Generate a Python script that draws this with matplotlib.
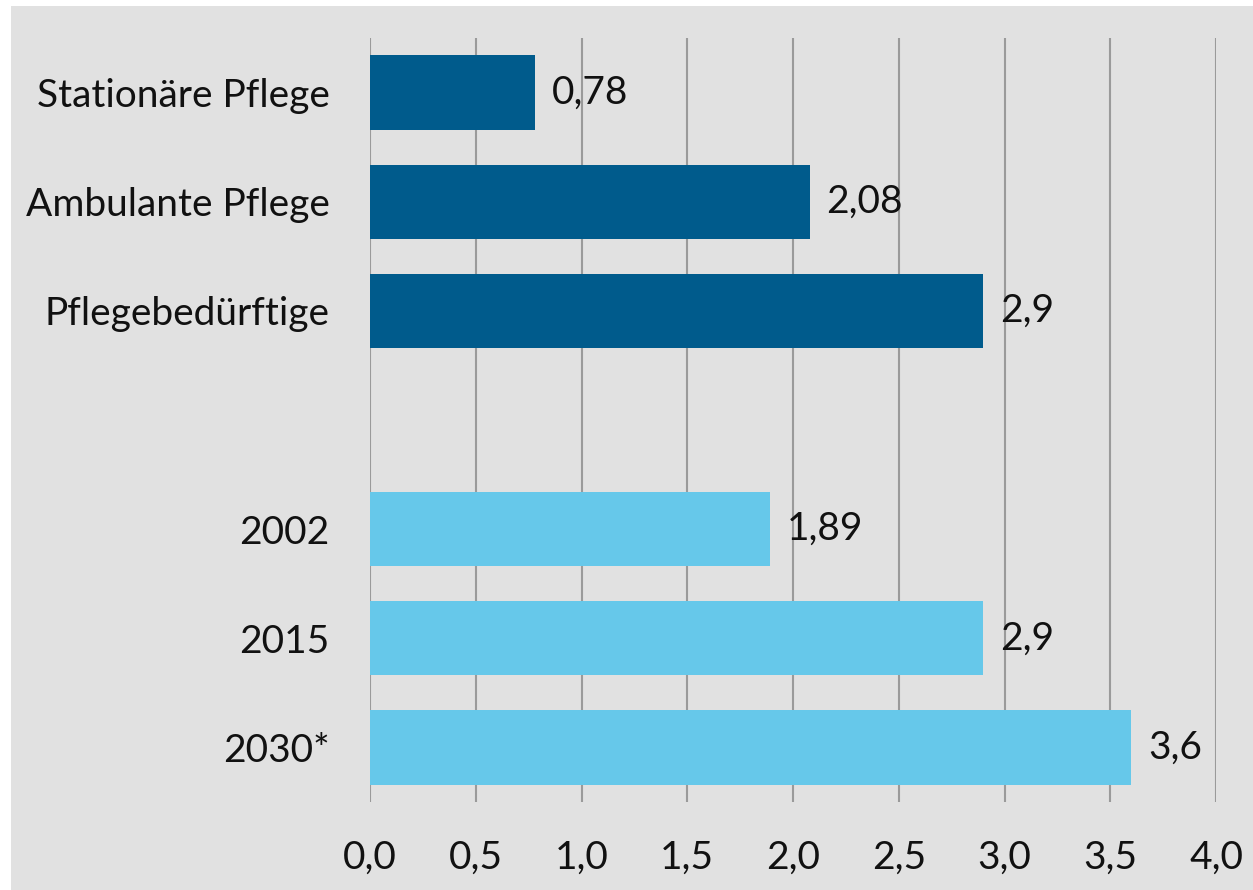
import matplotlib
matplotlib.use("Agg")
import matplotlib.pyplot as plt
from matplotlib.patches import Rectangle

categories = ["Stationäre Pflege", "Ambulante Pflege", "Pflegebedürftige", "", "2002", "2015", "2030*"]
values = [0.78, 2.08, 2.9, None, 1.89, 2.9, 3.6]
value_labels = ["0,78", "2,08", "2,9", "", "1,89", "2,9", "3,6"]
bar_colors = ["#005b8c", "#005b8c", "#005b8c", None, "#66c8ea", "#66c8ea", "#66c8ea"]
xticks = [0.0, 0.5, 1.0, 1.5, 2.0, 2.5, 3.0, 3.5, 4.0]
xtick_labels = ["0,0", "0,5", "1,0", "1,5", "2,0", "2,5", "3,0", "3,5", "4,0"]

plt.rcParams['font.family'] = ['Lato', 'DejaVu Sans']
bg = "#e1e1e1"
fs = 28

fig = plt.figure(figsize=(12.53, 8.9), dpi=100, facecolor="white")
fig.patches.append(Rectangle((11/1253, 0), 1 - 11/1253, 1 - 6/890, transform=fig.transFigure,
                             facecolor=bg, edgecolor="none", zorder=-10))
ax = fig.add_axes([370/1253, 1 - 802/890, (1216 - 370)/1253, (802 - 38)/890])
ax.set_zorder(1)
ax.set_facecolor(bg)

ypos = list(range(len(categories)))
for y, v, c in zip(ypos, values, bar_colors):
    if v is None:
        continue
    ax.barh(y, v, height=0.68, color=c, zorder=3)
for y, v, lab in zip(ypos, values, value_labels):
    if v is None:
        continue
    ax.annotate(lab, (v, y), xytext=(12, 0), textcoords="offset points",
                va="center", ha="left", fontsize=fs, color="#111111", zorder=4)

ax.set_xlim(0, 4.0)
ax.set_ylim(len(categories) - 0.5, -0.5)
ax.set_yticks(ypos)
ax.set_yticklabels(categories, fontsize=fs, color="#111111")
ax.set_xticks(xticks)
ax.set_xticklabels(xtick_labels, fontsize=fs, color="#111111")
ax.tick_params(axis="y", length=0, pad=29)
ax.tick_params(axis="x", length=0, pad=27)
ax.grid(axis="x", color="#9a9a9a", linewidth=1.5, zorder=1)
ax.set_axisbelow(True)
for s in ax.spines.values():
    s.set_visible(False)

fig.savefig("out.png", dpi=100, facecolor="white")
